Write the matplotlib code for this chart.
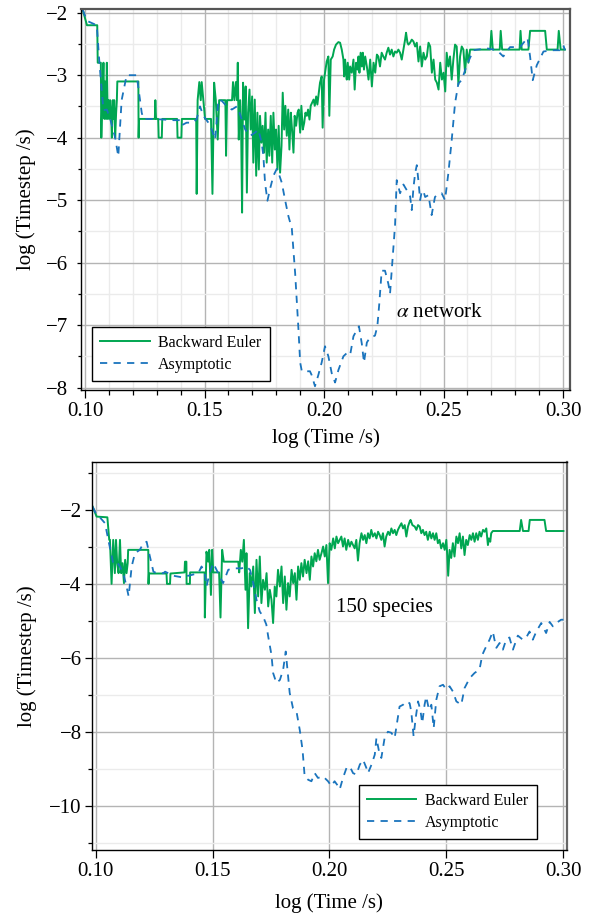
import matplotlib
matplotlib.use("Agg")
import matplotlib.pyplot as plt
from matplotlib.ticker import MultipleLocator, FormatStrFormatter

plt.rcParams["font.family"] = ["Liberation Serif", "DejaVu Serif"]
plt.rcParams["mathtext.fontset"] = "stix"
plt.rcParams["axes.unicode_minus"] = True

GREEN = "#00a651"
BLUE = "#1a74bd"

# ---------------- top panel: alpha network ----------------
top_be_t = [
    0.0990, 0.1008, 0.1051, 0.1053, 0.1066, 0.1068, 0.1072, 0.1077, 0.1081, 0.1084,
    0.1088, 0.1091, 0.1095, 0.1098, 0.1102, 0.1105, 0.1109, 0.1112, 0.1116, 0.1119,
    0.1122, 0.1126, 0.1130, 0.1133, 0.1135, 0.1223, 0.1224, 0.1226, 0.1292, 0.1294,
    0.1297, 0.1306, 0.1308, 0.1321, 0.1323, 0.1385, 0.1387, 0.1403, 0.1405, 0.1465,
    0.1467, 0.1471, 0.1478, 0.1484, 0.1488, 0.1495, 0.1502, 0.1527, 0.1533, 0.1540,
    0.1547, 0.1555, 0.1561, 0.1587, 0.1590, 0.1594, 0.1615, 0.1619, 0.1625, 0.1631,
    0.1636, 0.1639, 0.1643, 0.1649, 0.1653, 0.1657, 0.1661, 0.1667, 0.1672, 0.1677,
    0.1682, 0.1688, 0.1693, 0.1699, 0.1704, 0.1710, 0.1716, 0.1721, 0.1727, 0.1732,
    0.1738, 0.1743, 0.1749, 0.1755, 0.1760, 0.1766, 0.1771, 0.1777, 0.1783, 0.1788,
    0.1794, 0.1799, 0.1805, 0.1810, 0.1816, 0.1822, 0.1827, 0.1833, 0.1838, 0.1844,
    0.1850, 0.1855, 0.1861, 0.1866, 0.1872, 0.1877, 0.1883, 0.1889, 0.1894, 0.1900,
    0.1905, 0.1911, 0.1917, 0.1922, 0.1928, 0.1933, 0.1939, 0.1944, 0.1950, 0.1956,
    0.1961, 0.1967, 0.1972, 0.1978, 0.1983, 0.1990, 0.1994, 0.2000, 0.2004, 0.2011,
    0.2018, 0.2022, 0.2028, 0.2036, 0.2042, 0.2050, 0.2060, 0.2067, 0.2074, 0.2081,
    0.2084, 0.2088, 0.2092, 0.2095, 0.2099, 0.2105, 0.2109, 0.2116, 0.2123, 0.2128,
    0.2134, 0.2140, 0.2144, 0.2148, 0.2153, 0.2158, 0.2162, 0.2167, 0.2172, 0.2179,
    0.2186, 0.2193, 0.2200, 0.2207, 0.2214, 0.2221, 0.2227, 0.2234, 0.2241, 0.2248,
    0.2255, 0.2262, 0.2269, 0.2276, 0.2283, 0.2290, 0.2297, 0.2304, 0.2311, 0.2318,
    0.2325, 0.2332, 0.2339, 0.2343, 0.2349, 0.2353, 0.2360, 0.2367, 0.2374, 0.2381,
    0.2388, 0.2395, 0.2402, 0.2409, 0.2416, 0.2423, 0.2430, 0.2437, 0.2444, 0.2451,
    0.2458, 0.2465, 0.2472, 0.2479, 0.2486, 0.2493, 0.2500, 0.2507, 0.2513, 0.2520,
    0.2527, 0.2534, 0.2541, 0.2548, 0.2555, 0.2562, 0.2569, 0.2576, 0.2583, 0.2590,
    0.2597, 0.2604, 0.2611, 0.2618, 0.2695, 0.2700, 0.2706, 0.2735, 0.2739, 0.2745,
    0.2818, 0.2822, 0.2827, 0.2855, 0.2862, 0.2925, 0.2932, 0.2977, 0.2982, 0.2990,
    0.3008,
]
top_be_dt = [
    -1.95, -2.20, -2.20, -2.80, -2.80, -4.00, -3.40, -2.80, -3.70, -3.10,
    -3.70, -2.80, -3.70, -3.40, -3.70, -3.40, -3.60, -4.00, -3.40, -3.70,
    -3.40, -4.00, -3.60, -3.40, -3.10, -3.10, -4.00, -3.70, -3.70, -3.40,
    -3.70, -3.70, -4.00, -4.00, -3.70, -3.70, -4.00, -4.00, -3.70, -3.70,
    -4.90, -3.40, -3.11, -3.40, -3.11, -3.40, -3.70, -3.70, -4.90, -3.12,
    -3.40, -4.03, -3.40, -3.40, -4.29, -3.40, -3.40, -3.11, -3.40, -3.11,
    -3.40, -2.80, -4.03, -3.40, -3.87, -5.20, -3.12, -3.71, -3.18, -4.88,
    -3.60, -3.23, -3.87, -3.34, -4.40, -3.39, -4.61, -3.60, -4.51, -3.65,
    -4.08, -3.81, -4.24, -3.60, -4.40, -3.87, -4.29, -3.65, -4.40, -3.60,
    -4.19, -3.87, -4.51, -3.81, -4.56, -4.13, -3.28, -3.87, -3.49, -3.97,
    -3.55, -4.19, -3.60, -3.87, -4.24, -3.65, -3.81, -3.60, -3.55, -3.92,
    -3.49, -3.87, -3.76, -3.60, -3.65, -3.55, -3.71, -3.49, -3.44, -3.39,
    -3.49, -3.34, -3.47, -3.28, -3.12, -3.02, -3.84, -3.07, -2.96, -2.78,
    -2.70, -3.65, -2.75, -2.70, -2.59, -2.51, -2.47, -2.48, -2.59, -2.75,
    -3.02, -2.75, -2.96, -3.07, -2.80, -3.07, -2.86, -2.96, -2.75, -3.23,
    -2.80, -2.91, -2.70, -2.96, -2.64, -2.86, -2.64, -2.91, -2.70, -2.86,
    -3.07, -2.75, -3.18, -2.80, -2.96, -2.67, -2.70, -2.86, -2.64, -2.70,
    -2.75, -2.64, -2.56, -2.67, -2.59, -2.70, -2.62, -2.64, -2.59, -2.64,
    -2.75, -2.59, -2.43, -2.32, -2.48, -2.51, -2.48, -2.43, -2.46, -2.54,
    -2.48, -2.78, -2.54, -2.86, -2.64, -2.75, -2.70, -2.48, -2.54, -2.96,
    -2.75, -3.07, -3.12, -3.23, -2.80, -3.07, -2.96, -3.26, -2.64, -2.86,
    -2.70, -3.07, -2.75, -2.51, -2.54, -3.15, -2.70, -2.54, -2.59, -2.96,
    -2.59, -2.80, -2.59, -2.59, -2.59, -2.29, -2.59, -2.59, -2.29, -2.59,
    -2.59, -2.29, -2.59, -2.59, -2.29, -2.29, -2.59, -2.59, -2.29, -2.59,
    -2.59,
]
top_as_t = [
    0.0990, 0.1008, 0.1049, 0.1060, 0.1077, 0.1091, 0.1105, 0.1126, 0.1139, 0.1153,
    0.1174, 0.1216, 0.1237, 0.1244, 0.1286, 0.1370, 0.1398, 0.1405, 0.1425, 0.1453,
    0.1467, 0.1481, 0.1495, 0.1516, 0.1530, 0.1544, 0.1558, 0.1572, 0.1593, 0.1614,
    0.1635, 0.1646, 0.1656, 0.1670, 0.1691, 0.1711, 0.1725, 0.1739, 0.1746, 0.1753,
    0.1763, 0.1774, 0.1788, 0.1802, 0.1809, 0.1823, 0.1837, 0.1851, 0.1865, 0.1879,
    0.1893, 0.1900, 0.1907, 0.1941, 0.1948, 0.1962, 0.1976, 0.1990, 0.2004, 0.2018,
    0.2032, 0.2046, 0.2060, 0.2081, 0.2095, 0.2109, 0.2123, 0.2137, 0.2146, 0.2158,
    0.2167, 0.2179, 0.2192, 0.2213, 0.2223, 0.2231, 0.2241, 0.2255, 0.2269, 0.2276,
    0.2283, 0.2297, 0.2304, 0.2318, 0.2332, 0.2346, 0.2360, 0.2367, 0.2374, 0.2381,
    0.2388, 0.2395, 0.2402, 0.2409, 0.2416, 0.2423, 0.2437, 0.2450, 0.2464, 0.2478,
    0.2492, 0.2506, 0.2520, 0.2534, 0.2548, 0.2562, 0.2576, 0.2597, 0.2625, 0.2681,
    0.2723, 0.2750, 0.2778, 0.2820, 0.2841, 0.2851, 0.2862, 0.2873, 0.2890, 0.2918,
    0.2960, 0.2987, 0.3001, 0.3008,
]
top_as_dt = [
    -1.95, -2.13, -2.20, -2.80, -3.56, -3.55, -3.70, -4.00, -4.30, -3.40,
    -3.00, -3.00, -3.60, -3.70, -3.70, -3.72, -3.72, -3.80, -3.76, -3.76,
    -3.70, -3.50, -3.65, -3.76, -3.87, -4.03, -3.39, -3.41, -3.50, -3.55,
    -3.50, -3.60, -3.71, -3.87, -3.97, -3.92, -3.87, -4.08, -4.29, -4.72,
    -5.01, -4.82, -4.61, -4.50, -4.56, -4.72, -5.00, -5.26, -5.45, -6.17,
    -7.08, -7.60, -7.74, -7.74, -7.80, -7.98, -7.80, -7.60, -7.34, -7.50,
    -7.77, -7.92, -7.72, -7.50, -7.45, -7.48, -7.18, -7.08, -7.02, -7.30,
    -7.60, -7.28, -7.20, -7.17, -7.02, -6.66, -6.13, -6.13, -6.34, -6.50,
    -6.13, -5.40, -4.68, -4.89, -4.75, -4.84, -4.94, -5.16, -4.80, -4.57,
    -4.44, -4.70, -5.00, -4.85, -4.86, -4.95, -4.92, -5.24, -4.95, -4.90,
    -4.89, -5.00, -4.57, -4.04, -3.45, -3.13, -3.08, -2.84, -2.60, -2.57,
    -2.60, -2.70, -2.55, -2.55, -2.45, -2.40, -2.70, -3.08, -2.84, -2.62,
    -2.60, -2.60, -2.52, -2.60,
]

# ---------------- bottom panel: 150 species ----------------
bot_be_t = [
    0.0987, 0.1004, 0.1050, 0.1058, 0.1061, 0.1068, 0.1075, 0.1082, 0.1087, 0.1092,
    0.1098, 0.1104, 0.1109, 0.1115, 0.1121, 0.1126, 0.1132, 0.1137, 0.1139, 0.1225,
    0.1226, 0.1228, 0.1303, 0.1305, 0.1318, 0.1320, 0.1380, 0.1382, 0.1388, 0.1389,
    0.1403, 0.1404, 0.1466, 0.1467, 0.1474, 0.1481, 0.1486, 0.1493, 0.1498, 0.1503,
    0.1528, 0.1534, 0.1541, 0.1548, 0.1610, 0.1614, 0.1621, 0.1627, 0.1634, 0.1641,
    0.1645, 0.1652, 0.1659, 0.1666, 0.1674, 0.1681, 0.1688, 0.1695, 0.1702, 0.1709,
    0.1716, 0.1724, 0.1731, 0.1738, 0.1745, 0.1752, 0.1759, 0.1766, 0.1773, 0.1780,
    0.1788, 0.1795, 0.1802, 0.1809, 0.1816, 0.1823, 0.1830, 0.1838, 0.1845, 0.1852,
    0.1859, 0.1866, 0.1873, 0.1880, 0.1887, 0.1894, 0.1902, 0.1909, 0.1916, 0.1923,
    0.1930, 0.1937, 0.1944, 0.1951, 0.1958, 0.1966, 0.1973, 0.1980, 0.1987, 0.1994,
    0.2001, 0.2008, 0.2016, 0.2023, 0.2030, 0.2037, 0.2044, 0.2051, 0.2058, 0.2065,
    0.2072, 0.2080, 0.2087, 0.2094, 0.2101, 0.2108, 0.2115, 0.2122, 0.2129, 0.2137,
    0.2144, 0.2151, 0.2158, 0.2165, 0.2172, 0.2179, 0.2186, 0.2194, 0.2201, 0.2208,
    0.2215, 0.2222, 0.2229, 0.2236, 0.2243, 0.2251, 0.2258, 0.2265, 0.2272, 0.2279,
    0.2286, 0.2293, 0.2300, 0.2308, 0.2315, 0.2322, 0.2329, 0.2336, 0.2343, 0.2347,
    0.2355, 0.2365, 0.2372, 0.2379, 0.2386, 0.2393, 0.2400, 0.2407, 0.2414, 0.2421,
    0.2429, 0.2436, 0.2443, 0.2450, 0.2457, 0.2464, 0.2471, 0.2478, 0.2486, 0.2493,
    0.2500, 0.2504, 0.2508, 0.2514, 0.2521, 0.2528, 0.2535, 0.2543, 0.2550, 0.2557,
    0.2564, 0.2571, 0.2578, 0.2585, 0.2592, 0.2600, 0.2607, 0.2614, 0.2621, 0.2628,
    0.2635, 0.2642, 0.2649, 0.2657, 0.2664, 0.2671, 0.2678, 0.2682, 0.2688, 0.2692,
    0.2699, 0.2814, 0.2820, 0.2828, 0.2852, 0.2857, 0.2920, 0.2927, 0.3001,
]
bot_be_dt = [
    -1.91, -2.18, -2.20, -2.81, -2.81, -4.00, -2.81, -3.71, -2.81, -3.44,
    -3.71, -2.81, -3.71, -3.44, -3.98, -3.35, -3.71, -3.44, -3.08, -3.08,
    -4.00, -3.72, -3.72, -4.00, -4.00, -3.72, -3.69, -3.40, -3.40, -4.00,
    -4.00, -3.69, -3.69, -4.91, -3.13, -3.40, -3.08, -4.30, -3.08, -3.69,
    -3.69, -4.91, -3.08, -3.40, -3.40, -3.69, -3.08, -3.40, -2.81, -4.16,
    -3.17, -5.20, -3.71, -4.07, -3.53, -4.79, -3.35, -4.34, -3.26, -4.52,
    -3.89, -4.16, -3.71, -4.61, -4.16, -4.43, -5.06, -4.07, -4.34, -3.62,
    -4.07, -3.53, -4.52, -3.80, -4.70, -3.98, -4.34, -3.62, -3.98, -3.71,
    -4.43, -3.53, -3.89, -3.44, -3.80, -3.35, -3.71, -3.39, -3.89, -3.26,
    -3.53, -3.17, -3.39, -3.08, -3.35, -3.17, -2.99, -3.26, -2.95, -3.98,
    -2.90, -3.08, -2.77, -3.04, -2.72, -2.90, -2.81, -2.72, -2.99, -2.77,
    -3.08, -2.81, -2.99, -2.86, -2.95, -3.04, -2.81, -3.37, -2.90, -2.63,
    -2.81, -2.68, -2.90, -2.63, -2.77, -2.54, -2.72, -2.63, -2.77, -2.59,
    -2.68, -2.81, -2.63, -2.99, -2.72, -2.59, -2.68, -2.50, -2.63, -2.54,
    -2.68, -2.54, -2.45, -2.36, -2.50, -2.41, -2.72, -2.45, -2.32, -2.27,
    -2.41, -2.45, -2.54, -2.41, -2.45, -2.63, -2.54, -2.68, -2.59, -2.81,
    -2.59, -2.77, -2.63, -2.81, -2.63, -2.90, -2.81, -3.04, -2.90, -3.08,
    -2.81, -3.22, -3.78, -3.08, -3.30, -2.90, -3.26, -2.72, -2.90, -2.63,
    -3.04, -2.72, -3.22, -2.81, -2.95, -2.68, -2.81, -2.63, -2.86, -2.63,
    -2.81, -2.59, -2.72, -2.54, -2.59, -2.50, -2.95, -2.77, -2.86, -2.63,
    -2.57, -2.57, -2.27, -2.57, -2.57, -2.27, -2.27, -2.57, -2.57,
]
bot_as_t = [
    0.0987, 0.1004, 0.1018, 0.1040, 0.1054, 0.1075, 0.1089, 0.1104, 0.1118, 0.1132,
    0.1141, 0.1154, 0.1168, 0.1189, 0.1204, 0.1218, 0.1232, 0.1247, 0.1261, 0.1290,
    0.1297, 0.1332, 0.1367, 0.1410, 0.1439, 0.1453, 0.1467, 0.1474, 0.1489, 0.1503,
    0.1524, 0.1545, 0.1567, 0.1588, 0.1609, 0.1624, 0.1645, 0.1660, 0.1674, 0.1688,
    0.1702, 0.1716, 0.1730, 0.1738, 0.1752, 0.1759, 0.1773, 0.1788, 0.1802, 0.1813,
    0.1823, 0.1830, 0.1844, 0.1859, 0.1873, 0.1885, 0.1894, 0.1909, 0.1923, 0.1937,
    0.1951, 0.1973, 0.1994, 0.2008, 0.2022, 0.2037, 0.2044, 0.2058, 0.2073, 0.2087,
    0.2101, 0.2115, 0.2130, 0.2144, 0.2158, 0.2165, 0.2180, 0.2194, 0.2201, 0.2212,
    0.2222, 0.2229, 0.2236, 0.2250, 0.2265, 0.2279, 0.2289, 0.2300, 0.2315, 0.2329,
    0.2343, 0.2350, 0.2360, 0.2369, 0.2379, 0.2389, 0.2397, 0.2407, 0.2414, 0.2426,
    0.2436, 0.2446, 0.2457, 0.2471, 0.2486, 0.2500, 0.2514, 0.2528, 0.2543, 0.2564,
    0.2578, 0.2600, 0.2621, 0.2642, 0.2654, 0.2664, 0.2685, 0.2699, 0.2706, 0.2714,
    0.2728, 0.2742, 0.2756, 0.2770, 0.2785, 0.2806, 0.2827, 0.2842, 0.2856, 0.2870,
    0.2885, 0.2906, 0.2927, 0.2942, 0.2956, 0.2970, 0.2991, 0.3001,
]
bot_as_dt = [
    -1.91, -2.14, -2.20, -2.36, -2.81, -3.44, -3.40, -3.53, -3.71, -4.07,
    -4.34, -3.53, -3.17, -3.08, -2.90, -2.86, -3.26, -3.67, -3.71, -3.71,
    -3.67, -3.78, -3.82, -3.76, -3.71, -3.53, -3.71, -4.07, -3.67, -3.44,
    -3.71, -3.98, -3.62, -3.58, -3.58, -3.58, -3.53, -3.62, -3.98, -4.43,
    -4.75, -4.88, -5.10, -5.42, -5.92, -6.41, -6.68, -6.60, -6.32, -5.83,
    -6.50, -6.95, -7.36, -7.45, -7.95, -8.49, -9.21, -9.30, -9.34, -9.12,
    -9.25, -9.21, -9.34, -9.47, -9.34, -9.47, -9.56, -9.25, -8.98, -8.94,
    -9.12, -9.16, -8.89, -8.76, -8.98, -9.12, -8.89, -8.62, -8.17, -8.53,
    -8.71, -8.44, -8.17, -8.00, -8.03, -8.17, -7.77, -7.32, -7.27, -7.18,
    -7.23, -7.45, -8.12, -7.63, -7.18, -7.41, -7.77, -7.27, -7.05, -7.41,
    -7.27, -7.90, -7.14, -6.77, -6.73, -6.86, -6.77, -6.91, -7.18, -7.27,
    -6.82, -6.55, -6.41, -6.32, -5.92, -5.78, -5.51, -5.29, -5.51, -5.73,
    -5.60, -5.78, -5.51, -5.45, -5.78, -5.40, -5.51, -5.45, -5.29, -5.51,
    -5.29, -5.06, -5.33, -5.03, -5.15, -5.06, -4.97, -4.97,
]

W, H = 593, 917
fig = plt.figure(figsize=(W / 100, H / 100), dpi=100)

# axes boxes in pixels (left, top, right, bottom)
ax1 = fig.add_axes([81 / W, 1 - 390 / H, 489 / W, 381 / H])
ax2 = fig.add_axes([91.7 / W, 1 - 850 / H, 475 / W, 388.3 / H])

DASH = (0, (4, 3.5))

# =========================
# Top panel
# =========================
ax1.plot(top_be_t, top_be_dt, color=GREEN, lw=1.4, label="Backward Euler")
ax1.plot(top_as_t, top_as_dt, color=BLUE, lw=1.3, linestyle=DASH, label="Asymptotic")

ax1.set_xlim(0.0983, 0.3029)
ax1.set_ylim(-8.04, -1.94)
ax1.xaxis.set_major_locator(MultipleLocator(0.05))
ax1.xaxis.set_minor_locator(MultipleLocator(0.01))
ax1.xaxis.set_major_formatter(FormatStrFormatter("%.2f"))
ax1.yaxis.set_major_locator(MultipleLocator(1))
ax1.yaxis.set_minor_locator(MultipleLocator(0.5))

ax1.grid(which="major", color="#b4b4b4", lw=1.0)
ax1.grid(which="minor", color="#ebebeb", lw=1.0)

ax1.tick_params(axis="x", which="major", direction="out", length=5.8, width=0.9,
                pad=3, labelsize=15)
ax1.tick_params(axis="x", which="minor", direction="out", length=3.6, width=0.9)
ax1.tick_params(axis="y", which="major", direction="out", length=3, width=0.9,
                pad=6, labelsize=15)
ax1.tick_params(axis="y", which="minor", direction="out", length=2.5, width=0.9)

for side in ["left", "bottom"]:
    ax1.spines[side].set_color("black")
    ax1.spines[side].set_linewidth(1.0)
for side in ["top", "right"]:
    ax1.spines[side].set_color("#555555")
    ax1.spines[side].set_linewidth(1.6)

ax1.set_xlabel("log (Time /s)", fontsize=15)
ax1.xaxis.set_label_coords(0.5, -0.100)
ax1.set_ylabel("log (Timestep /s)", fontsize=15)
ax1.yaxis.set_label_coords(-0.092, 0.5)

ax1.text(0.2301, -6.8, r"$\alpha$ network", fontsize=15, va="center")

leg1 = ax1.legend(loc="lower left", bbox_to_anchor=(0.0225, 0.0236), borderaxespad=0,
                  fancybox=False, edgecolor="black", framealpha=1, fontsize=11.5,
                  handlelength=3.1, handletextpad=0.55, borderpad=0.5,
                  labelspacing=0.4)
leg1.get_frame().set_linewidth(1.0)

# =========================
# Bottom panel
# =========================
ax2.plot(bot_be_t, bot_be_dt, color=GREEN, lw=1.4, label="Backward Euler")
ax2.plot(bot_as_t, bot_as_dt, color=BLUE, lw=1.3, linestyle=DASH, label="Asymptotic")

ax2.set_xlim(0.0983, 0.3015)
ax2.set_ylim(-11.2, -0.695)
ax2.xaxis.set_major_locator(MultipleLocator(0.05))
ax2.xaxis.set_major_formatter(FormatStrFormatter("%.2f"))
ax2.yaxis.set_major_locator(MultipleLocator(2))
ax2.yaxis.set_minor_locator(MultipleLocator(1))

ax2.grid(which="major", color="#b4b4b4", lw=1.0)
ax2.grid(which="minor", axis="y", color="#ebebeb", lw=1.0)

ax2.tick_params(axis="x", which="major", direction="out", length=5.8, width=0.9,
                pad=3, labelsize=15)
ax2.tick_params(axis="y", which="major", direction="out", length=4.8, width=0.9,
                pad=2.4, labelsize=15)
ax2.tick_params(axis="y", which="minor", direction="out", length=3, width=0.9)

for side in ["left", "bottom", "top"]:
    ax2.spines[side].set_color("black")
    ax2.spines[side].set_linewidth(1.0)
ax2.spines["right"].set_color("#666666")
ax2.spines["right"].set_linewidth(1.6)

ax2.set_xlabel("log (Time /s)", fontsize=15)
ax2.xaxis.set_label_coords(0.5, -0.111)
ax2.set_ylabel("log (Timestep /s)", fontsize=15)
ax2.yaxis.set_label_coords(-0.115, 0.5)

ax2.text(0.2027, -4.64, "150 species", fontsize=15, va="center")

leg2 = ax2.legend(loc="lower left", bbox_to_anchor=(0.5627, 0.0283), borderaxespad=0,
                  fancybox=False, edgecolor="black", framealpha=1, fontsize=11.5,
                  handlelength=3.1, handletextpad=0.55, borderpad=0.5,
                  labelspacing=0.4)
leg2.get_frame().set_linewidth(1.0)

fig.savefig("out.png", dpi=100)
plt.close(fig)
